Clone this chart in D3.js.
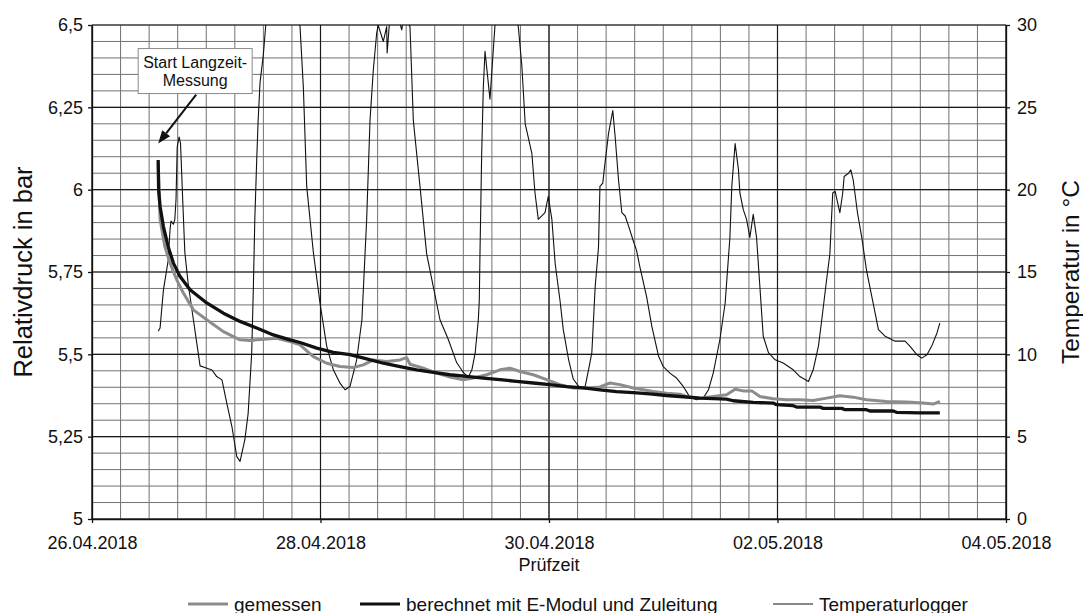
<!DOCTYPE html>
<html>
<head>
<meta charset="utf-8">
<script src="https://cdn.jsdelivr.net/npm/d3@7"></script>
<style>
  body { margin: 0; background: #fff; }
  svg { display: block; }
  text { font-family: "Liberation Sans", Arial, sans-serif; fill: #111; }
</style>
</head>
<body>
<svg id="chart" width="1083" height="613"></svg>
<script>
// Time values are hours after 26.04.2018 00:00.
const measuredHours = [13.9, 14.3, 15.3, 16.4, 17.8, 19.2, 21.3, 24.1, 27.6, 31.1, 33.2, 36.0, 38.8, 41.6, 43.7, 46.5, 49.3, 52.1, 54.9, 57.0, 59.1, 61.9, 64.7, 66.1, 66.8, 69.6, 72.4, 75.2, 78.0, 80.1, 82.9, 85.7, 87.8, 89.9, 92.7, 95.5, 98.3, 101.1, 103.9, 106.7, 108.8, 110.9, 113.7, 117.9, 120.7, 123.5, 124.9, 127.7, 130.5, 133.3, 135.1, 136.8, 138.6, 140.3, 143.1, 145.9, 148.7, 151.5, 154.3, 157.1, 159.9, 162.7, 166.9, 171.1, 174.6, 176.7, 178.1];
const measuredBar = [6.08, 5.91, 5.827, 5.777, 5.726, 5.686, 5.635, 5.605, 5.569, 5.544, 5.542, 5.546, 5.549, 5.539, 5.529, 5.493, 5.473, 5.463, 5.46, 5.468, 5.483, 5.478, 5.483, 5.49, 5.47, 5.458, 5.443, 5.431, 5.423, 5.428, 5.438, 5.453, 5.458, 5.448, 5.438, 5.423, 5.408, 5.398, 5.398, 5.401, 5.413, 5.408, 5.398, 5.387, 5.382, 5.379, 5.372, 5.367, 5.372, 5.377, 5.394, 5.389, 5.389, 5.372, 5.365, 5.362, 5.362, 5.36, 5.367, 5.374, 5.37, 5.362, 5.357, 5.355, 5.352, 5.349, 5.357];

const calcHours = [13.9, 14.0, 14.3, 15.0, 16.0, 17.1, 18.5, 20.6, 24.1, 27.6, 31.1, 34.6, 38.1, 41.6, 43.7, 47.2, 50.7, 54.2, 57.7, 61.2, 64.7, 68.2, 71.7, 75.2, 78.7, 82.2, 85.7, 89.2, 92.7, 96.2, 99.7, 103.2, 106.7, 110.2, 113.7, 117.2, 120.7, 123.5, 127.7, 133.3, 134.7, 138.9, 143.1, 143.8, 147.3, 148.0, 152.9, 153.6, 157.5, 158.2, 162.7, 163.4, 168.3, 169.0, 173.9, 178.1];
const calcBar = [6.09, 5.999, 5.949, 5.888, 5.827, 5.777, 5.736, 5.696, 5.656, 5.625, 5.6, 5.58, 5.559, 5.544, 5.536, 5.519, 5.506, 5.499, 5.486, 5.473, 5.463, 5.453, 5.445, 5.438, 5.433, 5.428, 5.423, 5.418, 5.413, 5.408, 5.402, 5.398, 5.392, 5.387, 5.384, 5.38, 5.375, 5.372, 5.367, 5.364, 5.359, 5.354, 5.352, 5.347, 5.344, 5.34, 5.34, 5.336, 5.336, 5.332, 5.332, 5.328, 5.328, 5.324, 5.322, 5.322];

const tempHours = [13.9, 14.3, 15.0, 16.0, 16.4, 16.6, 17.1, 17.4, 17.65, 17.9, 18.3, 18.6, 19.05, 19.5, 20.2, 21.3, 22.3, 22.7, 23.7, 25.2, 26.2, 27.3, 28.3, 29.4, 30.4, 31.1, 32.1, 32.8, 33.55, 33.9, 34.2, 34.6, 34.9, 35.3, 36.0, 36.5, 38.0, 40.1, 41.8, 43.7, 44.4, 45.1, 46.5, 47.9, 49.3, 50.7, 52.1, 53.15, 54.2, 55.6, 56.7, 57.7, 58.4, 59.1, 59.8, 60.1, 61.2, 61.9, 62.0, 62.45, 63.0, 64.3, 65.06, 65.5, 66.8, 67.5, 68.9, 70.3, 71.7, 73.1, 74.85, 76.6, 78.0, 79.05, 79.8, 80.5, 81.15, 81.36, 81.5, 81.86, 82.2, 82.56, 83.6, 84.3, 84.66, 85.7, 87.8, 89.55, 90.3, 91.0, 92.4, 93.06, 93.75, 95.16, 95.85, 96.6, 97.3, 98.3, 99.0, 100.1, 101.1, 102.5, 103.6, 104.3, 105.0, 105.7, 106.4, 106.7, 107.3, 107.6, 108.5, 109.4, 109.9, 110.6, 111.3, 112.0, 112.7, 113.7, 114.4, 115.1, 116.5, 117.6, 119.0, 120.0, 121.4, 122.8, 124.2, 125.6, 127.0, 128.4, 129.5, 130.5, 131.9, 133.0, 134.0, 134.4, 135.1, 135.8, 136.1, 136.8, 137.5, 138.2, 138.9, 139.6, 140.3, 141.0, 142.1, 143.5, 145.2, 147.3, 148.7, 150.5, 151.5, 152.6, 153.3, 154.3, 155.0, 155.6, 156.1, 157.1, 157.7, 158.0, 158.9, 159.4, 159.9, 160.8, 161.7, 162.7, 164.1, 165.2, 166.6, 168.7, 170.8, 171.8, 173.3, 174.3, 175.4, 176.4, 177.5, 178.1];
const tempC = [11.4, 11.6, 13.9, 15.7, 17.6, 18.1, 17.9, 18.2, 19.4, 22.6, 23.2, 22.8, 19.4, 16.2, 14.3, 12.1, 10.1, 9.3, 9.2, 9.05, 8.65, 8.45, 7.05, 5.6, 3.8, 3.5, 4.8, 6.4, 10.1, 14.1, 18.2, 21.8, 24.2, 26.5, 28.2, 30.0, 31.5, 32.0, 31.5, 29.9, 26.2, 20.2, 16.2, 13.1, 10.5, 9.06, 8.25, 7.85, 8.05, 9.67, 12.1, 18.2, 24.2, 27.3, 29.5, 30.0, 29.0, 29.9, 28.3, 30.0, 31.0, 30.5, 29.7, 30.5, 29.9, 24.2, 20.2, 16.1, 14.1, 12.1, 10.9, 9.5, 8.9, 8.6, 9.06, 10.1, 12.1, 13.3, 16.1, 22.2, 26.2, 28.4, 25.5, 28.5, 30.0, 32.0, 31.5, 29.9, 27.5, 24.0, 22.2, 19.8, 18.2, 18.6, 19.6, 18.2, 15.5, 13.3, 11.5, 9.7, 8.5, 7.95, 8.05, 9.06, 10.1, 14.1, 16.5, 20.2, 20.4, 21.2, 23.4, 24.8, 23.2, 20.6, 18.6, 18.4, 17.8, 16.9, 16.3, 15.3, 13.5, 11.7, 9.9, 9.26, 8.86, 8.56, 8.05, 7.4, 7.24, 7.34, 7.85, 8.86, 10.9, 13.1, 17.1, 20.2, 22.8, 21.2, 19.8, 18.8, 18.2, 17.1, 18.5, 17.1, 14.1, 11.1, 10.1, 9.67, 9.47, 9.06, 8.65, 8.35, 9.06, 10.5, 12.1, 14.5, 16.1, 19.8, 19.9, 18.6, 19.8, 20.8, 21.0, 21.2, 20.6, 18.6, 17.1, 15.1, 13.1, 11.5, 11.1, 10.8, 10.8, 10.5, 9.97, 9.77, 9.97, 10.5, 11.3, 11.9];

const dateTickLabels = ["26.04.2018", "28.04.2018", "30.04.2018", "02.05.2018", "04.05.2018"];
const pressureTicks = [5, 5.25, 5.5, 5.75, 6, 6.25, 6.5];
const temperatureTicks = [0, 5, 10, 15, 20, 25, 30];
const seriesNames = ["gemessen", "berechnet mit E-Modul und Zuleitung", "Temperaturlogger"];
const noteLines = ["Start Langzeit-", "Messung"];

const parseDate = d3.utcParse("%d.%m.%Y");
const tickDates = dateTickLabels.map(parseDate);
const t0 = tickDates[0];
const atHour = h => new Date(t0.getTime() + h * 3600e3);
const decimalComma = v => String(v).replace(".", ",");

const svg = d3.select("#chart");
const plotLeft = 92, plotRight = 1006, plotTop = 25, plotBottom = 519;

const x = d3.scaleUtc().domain([tickDates[0], tickDates[tickDates.length - 1]]).range([plotLeft, plotRight]);
const yP = d3.scaleLinear().domain([5, 6.5]).range([plotBottom, plotTop]);
const yT = d3.scaleLinear().domain([0, 30]).range([plotBottom, plotTop]);

svg.append("rect").attr("width", 1083).attr("height", 613).attr("fill", "#fff");

svg.append("clipPath").attr("id", "plotClip")
  .append("rect").attr("x", plotLeft).attr("y", plotTop)
  .attr("width", plotRight - plotLeft).attr("height", plotBottom - plotTop);

// grid: fine lines every 6 h and every 0.05 bar, heavy lines at the labelled ticks
const grid = svg.append("g");
const minorTimes = d3.utcHour.every(6).range(x.domain()[0], new Date(x.domain()[1].getTime() + 1));
grid.selectAll(".vminor").data(minorTimes).join("line")
  .attr("x1", d => x(d)).attr("x2", d => x(d)).attr("y1", plotTop).attr("y2", plotBottom)
  .attr("stroke", "#727272").attr("stroke-width", 1);
const minorP = d3.range(0, 31).map(i => 5 + i * 0.05);
grid.selectAll(".hminor").data(minorP).join("line")
  .attr("x1", plotLeft).attr("x2", plotRight).attr("y1", d => yP(d)).attr("y2", d => yP(d))
  .attr("stroke", "#727272").attr("stroke-width", 1);
grid.selectAll(".vmajor").data(tickDates).join("line")
  .attr("x1", d => x(d)).attr("x2", d => x(d)).attr("y1", plotTop).attr("y2", plotBottom)
  .attr("stroke", "#1a1a1a").attr("stroke-width", 1.2);
grid.selectAll(".hmajor").data(pressureTicks).join("line")
  .attr("x1", plotLeft).attr("x2", plotRight).attr("y1", d => yP(d)).attr("y2", d => yP(d))
  .attr("stroke", "#1a1a1a").attr("stroke-width", 1.2);

// axes
const styleAxis = g => {
  g.selectAll("path.domain").attr("stroke", "#111").attr("stroke-width", 1.3);
  g.selectAll(".tick line").attr("stroke", "#111").attr("stroke-width", 1.3);
  g.selectAll(".tick text").attr("font-size", 18).attr("fill", "#111")
    .attr("font-family", '"Liberation Sans", Arial, sans-serif');
};
svg.append("g").attr("transform", `translate(${plotLeft},0)`)
  .call(d3.axisLeft(yP).tickValues(pressureTicks).tickFormat(decimalComma).tickSize(4).tickSizeOuter(0).tickPadding(5))
  .call(styleAxis);
svg.append("g").attr("transform", `translate(${plotRight},0)`)
  .call(d3.axisRight(yT).tickValues(temperatureTicks).tickSize(4).tickSizeOuter(0).tickPadding(7))
  .call(styleAxis);
svg.append("g").attr("transform", `translate(0,${plotBottom})`)
  .call(d3.axisBottom(x).tickValues(tickDates).tickFormat(d3.utcFormat("%d.%m.%Y")).tickSize(4).tickSizeOuter(0).tickPadding(13))
  .call(styleAxis);

// axis titles
const midY = (plotTop + plotBottom) / 2;
svg.append("text").attr("transform", `translate(32,${midY}) rotate(-90)`)
  .attr("text-anchor", "middle").attr("font-size", 25.5).text("Relativdruck in bar");
svg.append("text").attr("transform", `translate(1079,${midY}) rotate(-90)`)
  .attr("text-anchor", "middle").attr("font-size", 24.5).text("Temperatur in °C");
svg.append("text").attr("x", x(tickDates[2])).attr("y", 571)
  .attr("text-anchor", "middle").attr("font-size", 18).text("Prüfzeit");

// series
const plot = svg.append("g").attr("clip-path", "url(#plotClip)");
const tempLine = d3.line().x((d, i) => x(atHour(tempHours[i]))).y(d => yT(d));
const pLineM = d3.line().x((d, i) => x(atHour(measuredHours[i]))).y(d => yP(d));
const pLineC = d3.line().x((d, i) => x(atHour(calcHours[i]))).y(d => yP(d));

plot.append("path").attr("d", tempLine(tempC))
  .attr("fill", "none").attr("stroke", "#111").attr("stroke-width", 1.1).attr("stroke-linejoin", "round");
plot.append("path").attr("d", pLineM(measuredBar))
  .attr("fill", "none").attr("stroke", "#8c8c8c").attr("stroke-width", 3).attr("stroke-linejoin", "round");
plot.append("path").attr("d", pLineC(calcBar))
  .attr("fill", "none").attr("stroke", "#111").attr("stroke-width", 3.3).attr("stroke-linejoin", "round");

// note with arrow pointing at the start of the measurement
const ax = x(atHour(measuredHours[0])), ay = yP(6.14);
const note = svg.append("g");
note.append("rect").attr("x", ax - 20).attr("y", ay - 95).attr("width", 114).attr("height", 45)
  .attr("fill", "#fff").attr("stroke", "#8a8a8a").attr("stroke-width", 1);
note.selectAll("text").data(noteLines).join("text")
  .attr("x", ax + 37).attr("y", (d, i) => ay - 76 + i * 18)
  .attr("text-anchor", "middle").attr("font-size", 16).attr("fill", "#333").text(d => d);
const sx = ax + 38, sy = ay - 49;
const ang = Math.atan2(ay - sy, ax - sx);
const headLen = 13, headW = 5;
const bx = ax - headLen * Math.cos(ang), by = ay - headLen * Math.sin(ang);
note.append("line").attr("x1", sx).attr("y1", sy).attr("x2", bx).attr("y2", by)
  .attr("stroke", "#111").attr("stroke-width", 2);
note.append("polygon").attr("fill", "#111").attr("points", [
  [ax, ay],
  [bx + headW * Math.sin(ang), by - headW * Math.cos(ang)],
  [bx - headW * Math.sin(ang), by + headW * Math.cos(ang)]
].map(p => p.join(",")).join(" "));

// legend
const legendItems = [
  { name: seriesNames[0], x: 188, color: "#8c8c8c", width: 3 },
  { name: seriesNames[1], x: 360, color: "#111", width: 3.2 },
  { name: seriesNames[2], x: 773, color: "#111", width: 1.1 }
];
const lg = svg.append("g").selectAll("g").data(legendItems).join("g")
  .attr("transform", d => `translate(${d.x},604)`);
lg.append("line").attr("x1", 0).attr("x2", 40).attr("y1", 0).attr("y2", 0)
  .attr("stroke", d => d.color).attr("stroke-width", d => d.width);
lg.append("text").attr("x", 46).attr("y", 6.5).attr("font-size", 19).text(d => d.name);
</script>
</body>
</html>
